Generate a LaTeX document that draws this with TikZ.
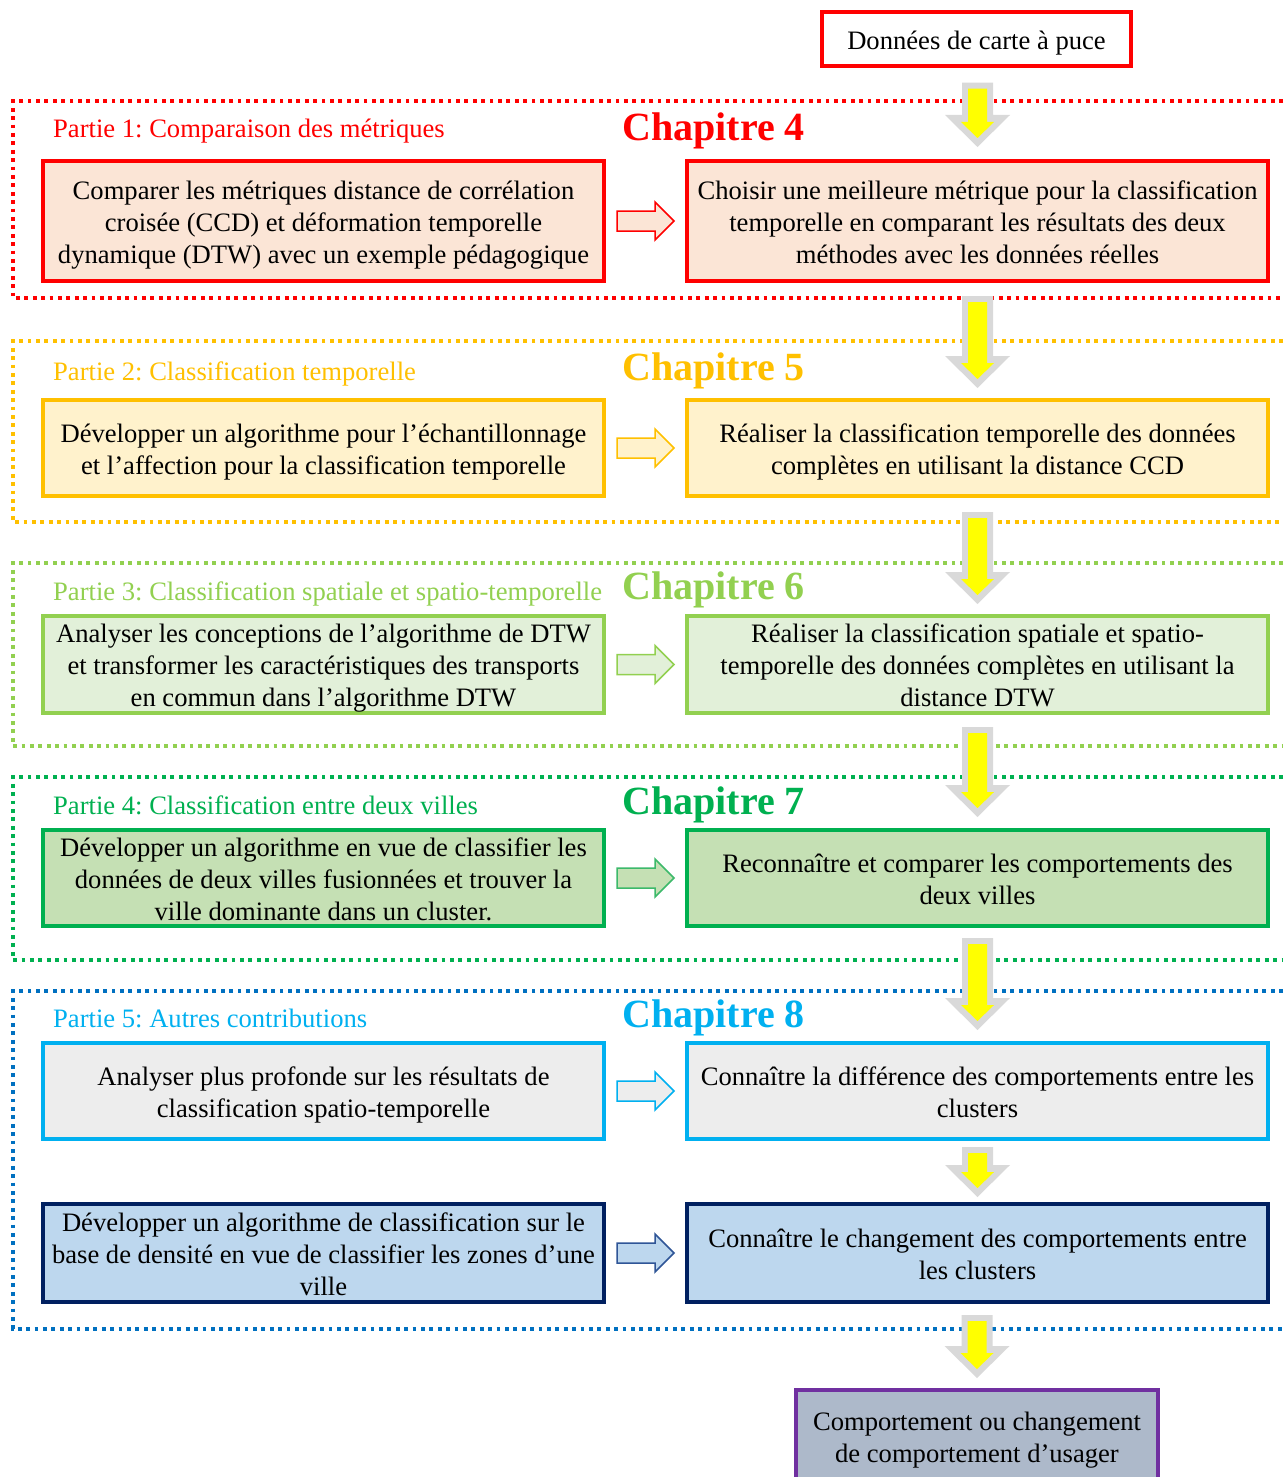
\documentclass[tikz,border=0pt]{standalone}
\usepackage{fontspec}
\setmainfont{Liberation Serif}
\usetikzlibrary{calc}
\frenchspacing

\definecolor{pOne}{HTML}{FF0000}
\definecolor{pTwo}{HTML}{FFC000}
\definecolor{pThree}{HTML}{92D050}
\definecolor{pFour}{HTML}{00B050}
\definecolor{pFive}{HTML}{00B0F0}
\definecolor{frameFive}{HTML}{0070C0}
\definecolor{fOne}{HTML}{FBE5D6}
\definecolor{fTwo}{HTML}{FFF2CC}
\definecolor{fThree}{HTML}{E2F0D9}
\definecolor{fFour}{HTML}{C5E0B4}
\definecolor{fFiveA}{HTML}{EDEDED}
\definecolor{fFiveB}{HTML}{BDD7EE}
\definecolor{navy}{HTML}{002060}
\definecolor{navyArrow}{HTML}{2F5597}
\definecolor{greenArrow}{HTML}{3CB96A}
\definecolor{fFinal}{HTML}{ADB9CA}
\definecolor{purpleEdge}{HTML}{7030A0}
\definecolor{dropgray}{HTML}{D9D9D9}
\definecolor{dropyellow}{HTML}{FFFF00}

\newcommand{\boxfont}{\fontsize{26.6}{32}\selectfont}
\newcommand{\chapfont}{\fontsize{40}{44}\selectfont\bfseries}
% fixed head room on the first line and foot room on the last line of a box text
\newcommand{\headroom}{\rule{0pt}{26pt}}
\newcommand{\footroom}{\rule[-6pt]{0pt}{6pt}}

% hollow block arrow from the east side of one box to the west side of another
\newcommand{\sideflow}[4]{%
  \filldraw[fill=#3, draw=#4, line width=1.5pt, line join=miter]
    let \p1=(#1.east), \p2=(#2.west) in
    (\x1+11pt,\y2+10pt) -- (\x2-30pt,\y2+10pt) -- (\x2-30pt,\y2+19pt) --
    (\x2-11pt,\y2) -- (\x2-30pt,\y2-19pt) -- (\x2-30pt,\y2-10pt) --
    (\x1+11pt,\y2-10pt) -- cycle;}

% grey block arrow with a yellow core, from one box down to the next
\newcommand{\dropflow}[4]{%
  \fill[dropgray] let \p1=(#1.south), \p2=(#2.north) in
    (\x2-15.5pt,\y1-#3) -- (\x2+15.5pt,\y1-#3) -- (\x2+15.5pt,\y2+#4+32pt) --
    (\x2+32.5pt,\y2+#4+32pt) -- (\x2,\y2+#4) -- (\x2-32.5pt,\y2+#4+32pt) --
    (\x2-15.5pt,\y2+#4+32pt) -- cycle;
  \fill[dropyellow] let \p1=(#1.south), \p2=(#2.north) in
    (\x2-9.5pt,\y1-#3-6pt) -- (\x2+9.5pt,\y1-#3-6pt) -- (\x2+9.5pt,\y2+#4+25pt) --
    (\x2+16.5pt,\y2+#4+25pt) -- (\x2,\y2+#4+9pt) -- (\x2-16.5pt,\y2+#4+25pt) --
    (\x2-9.5pt,\y2+#4+25pt) -- cycle;}

\begin{document}
\begin{tikzpicture}[x=1pt,y=-1pt,
  box/.style={draw, line width=4pt, inner sep=0pt, align=center, font=\boxfont, text=black},
  leftbox/.style={box, minimum width=561pt},
  rightbox/.style={box, minimum width=581pt},
  partlabel/.style={anchor=base west, inner sep=0pt, font=\boxfont},
  chaplabel/.style={anchor=base west, inner sep=0pt, font=\chapfont},
  partframe/.style={line width=3.6pt, dash pattern=on 3.8pt off 4.6pt}]

\useasboundingbox (0,0) rectangle (1283,1477);
\fill[white] (0,0) rectangle (1283,1477);

% dotted frames of the five parts
\draw[partframe, pOne]      (1283,101) -- (13,101) -- (13,298) -- (1283,298);
\draw[partframe, pTwo]      (1283,341) -- (13,341) -- (13,522) -- (1283,522);
\draw[partframe, pThree]    (1283,563) -- (13,563) -- (13,746) -- (1283,746);
\draw[partframe, pFour]     (1283,777) -- (13,777) -- (13,960) -- (1283,960);
\draw[partframe, frameFive] (1283,991) -- (13,991) -- (13,1329) -- (1283,1329);

% source data
\node[box, draw=pOne, fill=white, line width=3.5pt, minimum width=309pt, minimum height=54pt]
  (src) at (976.5,39) {\headroom Données de carte à puce};

% part 1
\node[partlabel, text=pOne] (lab1) at (53,138) {Partie 1: Comparaison des métriques};
\node[chaplabel, text=pOne] (ch4) at (622,141) {Chapitre 4};
\node[leftbox, draw=pOne, fill=fOne, minimum height=120pt] (l1) at (323.5,221)
  {\headroom Comparer les métriques distance de corrélation\\croisée (CCD) et déformation temporelle\\dynamique (DTW) avec un exemple pédagogique\footroom};
\node[rightbox, draw=pOne, fill=fOne, minimum height=120pt] (r1) at (977.5,221)
  {\headroom Choisir une meilleure métrique pour la classification\\temporelle en comparant les résultats des deux\\méthodes avec les données réelles\footroom};

% part 2
\node[partlabel, text=pTwo] (lab2) at (53,380) {Partie 2: Classification temporelle};
\node[chaplabel, text=pTwo] (ch5) at (622,380) {Chapitre 5};
\node[leftbox, draw=pTwo, fill=fTwo, minimum height=96pt] (l2) at (323.5,448)
  {\headroom Développer un algorithme pour l’échantillonnage\\et l’affection pour la classification temporelle\footroom};
\node[rightbox, draw=pTwo, fill=fTwo, minimum height=96pt] (r2) at (977.5,448)
  {\headroom Réaliser la classification temporelle des données\\complètes en utilisant la distance CCD\footroom};

% part 3
\node[partlabel, text=pThree] (lab3) at (53,600) {Partie 3: Classification spatiale et spatio-temporelle};
\node[chaplabel, text=pThree] (ch6) at (622,599) {Chapitre 6};
\node[leftbox, draw=pThree, fill=fThree, minimum height=97pt] (l3) at (323.5,664.5)
  {\headroom Analyser les conceptions de l’algorithme de DTW\\et transformer les caractéristiques des transports\\en commun dans l’algorithme DTW\footroom};
\node[rightbox, draw=pThree, fill=fThree, minimum height=97pt] (r3) at (977.5,664.5)
  {\headroom Réaliser la classification spatiale et spatio-\\temporelle des données complètes en utilisant la\\distance DTW\footroom};

% part 4
\node[partlabel, text=pFour] (lab4) at (53,814) {Partie 4: Classification entre deux villes};
\node[chaplabel, text=pFour] (ch7) at (622,814) {Chapitre 7};
\node[leftbox, draw=pFour, fill=fFour, minimum height=96pt] (l4) at (323.5,878)
  {\headroom Développer un algorithme en vue de classifier les\\données de deux villes fusionnées et trouver la\\ville dominante dans un cluster.\footroom};
\node[rightbox, draw=pFour, fill=fFour, minimum height=96pt] (r4) at (977.5,878)
  {\headroom Reconnaître et comparer les comportements des\\deux villes\footroom};

% part 5
\node[partlabel, text=pFive] (lab5) at (53,1027) {Partie 5: Autres contributions};
\node[chaplabel, text=pFive] (ch8) at (622,1027) {Chapitre 8};
\node[leftbox, draw=pFive, fill=fFiveA, minimum height=96pt] (l5a) at (323.5,1091)
  {\headroom Analyser plus profonde sur les résultats de\\classification spatio-temporelle\footroom};
\node[rightbox, draw=pFive, fill=fFiveA, minimum height=96pt] (r5a) at (977.5,1091)
  {\headroom Connaître la différence des comportements entre les\\clusters\footroom};
\node[leftbox, draw=navy, fill=fFiveB, minimum height=98pt] (l5b) at (323.5,1253)
  {\headroom Développer un algorithme de classification sur le\\base de densité en vue de classifier les zones d’une\\ville\footroom};
\node[rightbox, draw=navy, fill=fFiveB, minimum height=98pt] (r5b) at (977.5,1253)
  {\headroom Connaître le changement des comportements entre\\les clusters\footroom};

% outcome
\node[box, draw=purpleEdge, fill=fFinal, minimum width=362pt, minimum height=92pt]
  (out) at (977,1436) {\headroom Comportement ou changement\\de comportement d’usager\footroom};

% horizontal block arrows
\sideflow{l1}{r1}{fOne}{pOne}
\sideflow{l2}{r2}{fTwo}{pTwo}
\sideflow{l3}{r3}{fThree}{pThree}
\sideflow{l4}{r4}{fFour}{greenArrow}
\sideflow{l5a}{r5a}{fFiveA}{pFive}
\sideflow{l5b}{r5b}{fFiveB}{navyArrow}

% vertical block arrows
\dropflow{src}{r1}{15pt}{12pt}
\dropflow{r1}{r2}{13pt}{10pt}
\dropflow{r2}{r3}{14pt}{10pt}
\dropflow{r3}{r4}{12pt}{11pt}
\dropflow{r4}{r5a}{10pt}{11pt}
\dropflow{r5a}{r5b}{6pt}{5pt}
\dropflow{r5b}{out}{11pt}{10pt}
\end{tikzpicture}
\end{document}
